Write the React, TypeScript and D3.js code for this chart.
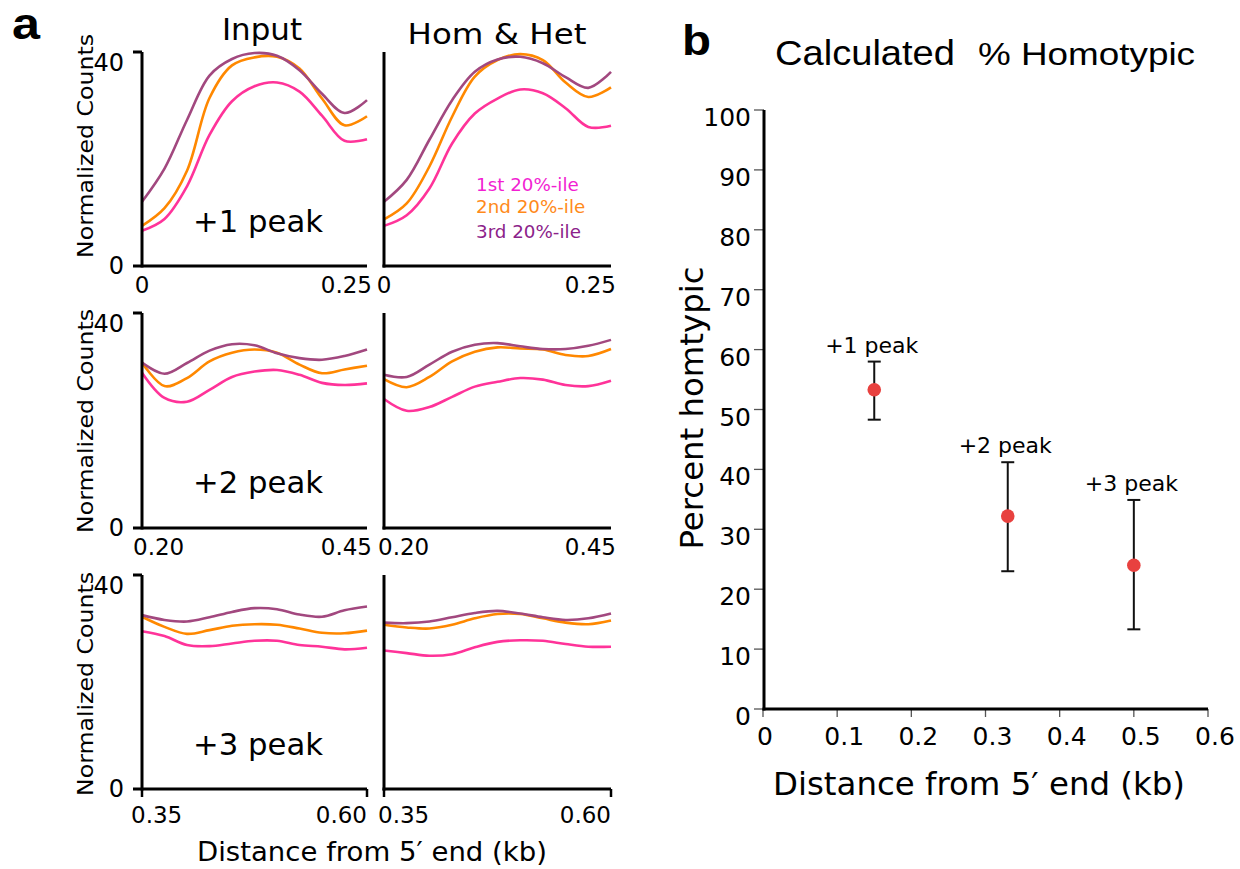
import React from 'react';
import * as d3 from 'd3';

// ---------- Data ----------
const SERIES = ['1st 20%-ile', '2nd 20%-ile', '3rd 20%-ile'];
const LINE_COLORS = ['#ff3399', '#ff8800', '#a2487f'];
const LEGEND_COLORS = ['#f21fd2', '#ff8a1a', '#8c228a'];
const COLUMN_TITLES = ['Input', 'Hom & Het'];
const ROW_PEAKS = ['+1 peak', '+2 peak', '+3 peak'];
const ROW_DOMAINS = [[0, 0.25], [0.2, 0.45], [0.35, 0.6]];
const ROW_TICK_LABELS = [['0', '0.25'], ['0.20', '0.45'], ['0.35', '0.60']];
const Y_TICK_LABELS = ['0', '40'];

const X_PEAK1 = [0, 0.025, 0.05, 0.075, 0.1, 0.125, 0.15, 0.175, 0.2, 0.225, 0.25];
const X_PEAK2 = [0.2, 0.225, 0.25, 0.275, 0.3, 0.325, 0.35, 0.375, 0.4, 0.425, 0.45];
const X_PEAK3 = [0.35, 0.375, 0.4, 0.425, 0.45, 0.475, 0.5, 0.525, 0.55, 0.575, 0.6];

const INPUT_P1_1ST = [6.6, 8.8, 14.9, 24.5, 30.8, 33.6, 34.3, 32.6, 28.1, 23.4, 23.7];
const INPUT_P1_2ND = [7.5, 10.8, 17.8, 31.4, 37.5, 39.0, 39.1, 36.9, 31.3, 26.3, 28.0];
const INPUT_P1_3RD = [12.0, 18.2, 27.3, 35.6, 38.7, 39.8, 39.3, 36.6, 32.2, 28.6, 31.0];

const HOMHET_P1_1ST = [7.5, 9.5, 14.5, 22.9, 28.5, 31.3, 33.0, 32.3, 29.5, 26.0, 26.2];
const HOMHET_P1_2ND = [8.7, 11.7, 18.6, 27.9, 35.4, 38.5, 39.6, 38.5, 34.3, 31.6, 33.4];
const HOMHET_P1_3RD = [12.0, 16.1, 23.6, 31.0, 36.3, 38.6, 39.1, 37.9, 35.3, 33.3, 36.3];

const INPUT_P2_1ST = [28.9, 24.2, 23.5, 25.7, 28.1, 29.1, 29.4, 28.5, 27.0, 26.6, 26.9];
const INPUT_P2_2ND = [30.8, 26.4, 27.9, 31.0, 32.6, 33.2, 32.6, 30.4, 28.8, 29.5, 30.2];
const INPUT_P2_3RD = [30.8, 28.7, 30.7, 33.0, 34.2, 34.0, 32.5, 31.6, 31.3, 32.0, 33.2];

const HOMHET_P2_1ST = [24.0, 21.8, 22.5, 24.4, 26.3, 27.2, 27.9, 27.6, 26.6, 26.4, 27.4];
const HOMHET_P2_2ND = [27.7, 26.2, 28.1, 31.0, 32.8, 33.6, 33.4, 33.2, 32.2, 32.0, 33.3];
const HOMHET_P2_3RD = [28.5, 28.1, 30.4, 32.8, 34.1, 34.4, 33.8, 33.3, 33.3, 33.9, 35.0];

const INPUT_P3_1ST = [29.5, 28.6, 26.9, 26.7, 27.2, 27.7, 27.7, 26.9, 26.6, 26.1, 26.4];
const INPUT_P3_2ND = [32.2, 30.3, 29.0, 29.7, 30.5, 30.8, 30.7, 30.0, 29.2, 29.1, 29.6];
const INPUT_P3_3RD = [32.5, 31.6, 31.3, 32.1, 33.1, 33.8, 33.6, 32.6, 32.2, 33.4, 34.1];

const HOMHET_P3_1ST = [25.9, 25.4, 24.9, 25.2, 26.5, 27.5, 27.8, 27.7, 27.1, 26.6, 26.6];
const HOMHET_P3_2ND = [30.7, 30.2, 30.0, 30.7, 31.9, 32.7, 32.7, 31.9, 31.1, 30.8, 31.5];
const HOMHET_P3_3RD = [31.1, 31.0, 31.3, 32.1, 32.9, 33.3, 32.8, 32.1, 31.6, 31.9, 32.8];

// Panel b
const PEAK_LABELS = ['+1 peak', '+2 peak', '+3 peak'];
const PEAK_DISTANCE = [0.15, 0.33, 0.5];
const PCT_HOMOTYPIC = [53.3, 32.2, 24.0];
const PCT_ERR_LOW = [48.3, 23.0, 13.3];
const PCT_ERR_HIGH = [58.0, 41.2, 34.9];
const B_X_TICKS = [0, 0.1, 0.2, 0.3, 0.4, 0.5, 0.6];
const B_Y_TICKS = [0, 10, 20, 30, 40, 50, 60, 70, 80, 90, 100];

// ---------- Derived tables ----------
const XS = [X_PEAK1, X_PEAK2, X_PEAK3];
const CURVES = [
  [[INPUT_P1_1ST, INPUT_P1_2ND, INPUT_P1_3RD], [HOMHET_P1_1ST, HOMHET_P1_2ND, HOMHET_P1_3RD]],
  [[INPUT_P2_1ST, INPUT_P2_2ND, INPUT_P2_3RD], [HOMHET_P2_1ST, HOMHET_P2_2ND, HOMHET_P2_3RD]],
  [[INPUT_P3_1ST, INPUT_P3_2ND, INPUT_P3_3RD], [HOMHET_P3_1ST, HOMHET_P3_2ND, HOMHET_P3_3RD]],
];

// ---------- Layout ----------
const SANS = "'DejaVu Sans', Verdana, sans-serif";
const ARIAL = "'Liberation Sans', Arial, sans-serif";
const COLS = [{ x0: 142, x1: 367 }, { x0: 384, x1: 611 }];
const ROWS = [{ top: 52, bottom: 266 }, { top: 313, bottom: 528 }, { top: 575, bottom: 789 }];
const Y_LABEL_CENTERS = [146, 421, 684];

function Panel({ row, col }: { row: number; col: number }) {
  const { x0, x1 } = COLS[col];
  const { top, bottom } = ROWS[row];
  const x = d3.scaleLinear().domain(ROW_DOMAINS[row]).range([x0, x1]);
  const y = d3.scaleLinear().domain([0, 40]).range([bottom, top]);
  const xs = XS[row];
  const line = d3
    .line<number>()
    .x((_, i) => x(xs[i]))
    .y((d) => y(d))
    .curve(d3.curveCatmullRom.alpha(0.5));
  const lastRow = row === 2;
  const [d0, d1] = ROW_DOMAINS[row];
  const [l0, l1] = ROW_TICK_LABELS[row];
  const labBase = bottom + (lastRow ? 34 : 27);
  return (
    <g>
      {CURVES[row][col].map((vals, s) => (
        <path key={s} d={line(vals) || ''} fill="none" stroke={LINE_COLORS[s]} strokeWidth={2.6} strokeLinejoin="round" />
      ))}
      <line x1={x0} x2={x0} y1={top} y2={bottom + 1.5} stroke="#000" strokeWidth={3} />
      <line x1={col === 0 ? x0 - 9 : x0 - 1.5} x2={x1} y1={bottom} y2={bottom} stroke="#000" strokeWidth={3} />
      {col === 0 && <line x1={x0 - 9} x2={x0} y1={y(40)} y2={y(40)} stroke="#000" strokeWidth={3} />}
      {lastRow && (
        <g>
          <line x1={x(d0)} x2={x(d0)} y1={bottom} y2={bottom + 8} stroke="#000" strokeWidth={2.5} />
          <line x1={x(d1)} x2={x(d1)} y1={bottom} y2={bottom + 8} stroke="#000" strokeWidth={2.5} />
        </g>
      )}
      <text
        x={row === 0 ? x(d0) : x(d0) - (col === 0 ? (lastRow ? 11 : 9) : 6)}
        y={labBase}
        textAnchor={row === 0 ? 'middle' : 'start'}
        fontFamily={SANS}
        fontSize={23}
      >
        {l0}
      </text>
      <text x={x(d1) + (lastRow ? 0 : 5)} y={labBase} textAnchor="end" fontFamily={SANS} fontSize={23}>
        {l1}
      </text>
      {col === 0 && (
        <g>
          <text x={124} y={y(40) + 19} textAnchor="end" fontFamily={SANS} fontSize={24}>
            {Y_TICK_LABELS[1]}
          </text>
          <text x={124} y={y(0) + 8} textAnchor="end" fontFamily={SANS} fontSize={24}>
            {Y_TICK_LABELS[0]}
          </text>
          <text
            transform={`translate(93, ${Y_LABEL_CENTERS[row]}) rotate(-90)`}
            textAnchor="middle"
            fontFamily={SANS}
            fontSize={22}
            textLength={224}
            lengthAdjust="spacingAndGlyphs"
          >
            Normalized Counts
          </text>
          <text x={193} y={top + 180} fontFamily={SANS} fontSize={30} textLength={130} lengthAdjust="spacingAndGlyphs">
            {ROW_PEAKS[row]}
          </text>
        </g>
      )}
    </g>
  );
}

function PanelB() {
  const x = d3.scaleLinear().domain([0, 0.6]).range([763, 1208]);
  const y = d3.scaleLinear().domain([0, 100]).range([709, 110]);
  return (
    <g>
      <text x={682} y={55} fontFamily={ARIAL} fontWeight="bold" fontSize={42} textLength={29} lengthAdjust="spacingAndGlyphs">
        b
      </text>
      <text x={775} y={65} fontFamily={ARIAL} fontSize={35} textLength={180} lengthAdjust="spacingAndGlyphs">
        Calculated
      </text>
      <text x={978} y={65} fontFamily={ARIAL} fontSize={32} textLength={217} lengthAdjust="spacingAndGlyphs">
        % Homotypic
      </text>
      {B_Y_TICKS.map((t) => (
        <g key={'y' + t}>
          <line x1={754} x2={764} y1={y(t)} y2={y(t)} stroke="#555" strokeWidth={1.3} />
          <text x={751} y={y(t) + 16} textAnchor="end" fontFamily={SANS} fontSize={25}>
            {t}
          </text>
        </g>
      ))}
      {B_X_TICKS.map((t) => (
        <g key={'x' + t}>
          <line x1={x(t)} x2={x(t)} y1={y(0)} y2={y(0) + 8} stroke="#555" strokeWidth={1.3} />
          <text x={x(t) + (t === 0 ? 2 : 7)} y={745} textAnchor="middle" fontFamily={SANS} fontSize={25}>
            {t === 0 ? '0' : d3.format('.1f')(t)}
          </text>
        </g>
      ))}
      <line x1={764} x2={764} y1={y(100)} y2={y(0) + 1.5} stroke="#000" strokeWidth={3} />
      <line x1={762.5} x2={x(0.6)} y1={y(0)} y2={y(0)} stroke="#000" strokeWidth={3} />
      <text x={979} y={795} textAnchor="middle" fontFamily={SANS} fontSize={32} textLength={412} lengthAdjust="spacingAndGlyphs">
        Distance from 5′ end (kb)
      </text>
      <text
        transform="translate(703, 408) rotate(-90)"
        textAnchor="middle"
        fontFamily={SANS}
        fontSize={32}
        textLength={283}
        lengthAdjust="spacingAndGlyphs"
      >
        Percent homtypic
      </text>
      {PEAK_DISTANCE.map((d, i) => (
        <g key={'p' + i}>
          <line x1={x(d)} x2={x(d)} y1={y(PCT_ERR_LOW[i])} y2={y(PCT_ERR_HIGH[i])} stroke="#111" strokeWidth={2} />
          <line x1={x(d) - 6.5} x2={x(d) + 6.5} y1={y(PCT_ERR_LOW[i])} y2={y(PCT_ERR_LOW[i])} stroke="#111" strokeWidth={2} />
          <line x1={x(d) - 6.5} x2={x(d) + 6.5} y1={y(PCT_ERR_HIGH[i])} y2={y(PCT_ERR_HIGH[i])} stroke="#111" strokeWidth={2} />
          <circle cx={x(d)} cy={y(PCT_HOMOTYPIC[i])} r={6.8} fill="#e8413f" />
          <text x={x(d) - 2.5} y={y(PCT_ERR_HIGH[i]) - 9} textAnchor="middle" fontFamily={SANS} fontSize={22}>
            {PEAK_LABELS[i]}
          </text>
        </g>
      ))}
    </g>
  );
}

export default function App() {
  return (
    <svg
      width={1240}
      height={869}
      viewBox="0 0 1240 869"
      style={{ position: 'absolute', left: 0, top: 0, background: '#fff' }}
    >
      <rect x={0} y={0} width={1240} height={869} fill="#fff" />
      <text x={12} y={39} fontFamily={ARIAL} fontWeight="bold" fontSize={44} textLength={28} lengthAdjust="spacingAndGlyphs">
        a
      </text>
      <text x={262} y={40} textAnchor="middle" fontFamily={SANS} fontSize={30} textLength={80} lengthAdjust="spacingAndGlyphs">
        {COLUMN_TITLES[0]}
      </text>
      <text x={497} y={44} textAnchor="middle" fontFamily={SANS} fontSize={29} textLength={179} lengthAdjust="spacingAndGlyphs">
        {COLUMN_TITLES[1]}
      </text>
      {[0, 1, 2].map((r) => [0, 1].map((c) => <Panel key={r + '-' + c} row={r} col={c} />))}
      {SERIES.map((s, i) => (
        <text key={s} x={476} y={[191, 213, 238][i]} fontFamily={SANS} fontSize={18.3} fill={LEGEND_COLORS[i]}>
          {s}
        </text>
      ))}
      <text x={372} y={861} textAnchor="middle" fontFamily={SANS} fontSize={26} textLength={350} lengthAdjust="spacingAndGlyphs">
        Distance from 5′ end (kb)
      </text>
      <PanelB />
    </svg>
  );
}
